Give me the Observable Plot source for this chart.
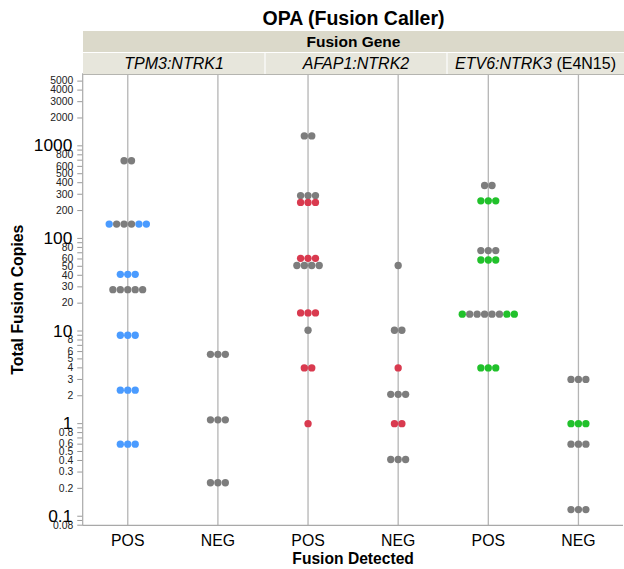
<!DOCTYPE html>
<html><head><meta charset="utf-8">
<script src="https://cdn.jsdelivr.net/npm/d3@7"></script>
<script src="https://cdn.jsdelivr.net/npm/@observablehq/plot@0.6"></script>
<style>
html,body{margin:0;padding:0;overflow:hidden;background:#fff;}
#wrap{position:relative;width:624px;height:569px;overflow:hidden;font-family:"Liberation Sans",Arial,sans-serif;color:#000;}
#wrap svg{position:absolute;left:0;top:0;}
.title{position:absolute;top:6px;height:24px;line-height:24px;text-align:center;font-weight:bold;font-size:19.5px;}
.strip1{position:absolute;top:31px;height:21px;line-height:21px;background:#dbd9ca;text-align:center;font-weight:bold;font-size:15.5px;}
.strip2{position:absolute;top:53px;height:21px;line-height:21px;background:#e7e6dc;text-align:center;font-size:16px;border-bottom:1px solid #b5b5b0;box-sizing:content-box;}
.sep{position:absolute;top:53px;height:21px;width:2px;background:#f4f4f0;}
</style>
</head><body>
<div id="wrap"></div>
<script>
// ---- data ----
const genes = ["TPM3:NTRK1", "AFAP1:NTRK2", "ETV6:NTRK3"];
const geneSuffix = ["", "", " (E4N15)"];
const detected = ["POS", "NEG"];
const geneColors = ["#4a9bff", "#d93a4f", "#21c12b"];
const grayColor = "#7d7d7d";

// [Total Fusion Copies, dot order in row: G = gray, C = gene colour]
const tpm3Pos = [[690, "GG"], [143, "CGGGCC"], [41, "CCC"], [28, "GGGGG"], [9, "CCC"], [2.3, "CCC"], [0.6, "CCC"]];
const tpm3Neg = [[5.6, "GGG"], [1.1, "GGG"], [0.23, "GGG"]];
const afap1Pos = [[1280, "GG"], [290, "GGG"], [245, "CCC"], [61, "CCC"], [51, "GGGG"], [15.7, "CCC"], [10.2, "G"], [4, "CC"], [1, "C"]];
const afap1Neg = [[51, "G"], [10.2, "GG"], [4, "C"], [2.07, "GGG"], [1, "CC"], [0.41, "GGG"]];
const etv6Pos = [[373, "GG"], [255, "CCC"], [74, "GGG"], [58.5, "CCC"], [15.2, "CGGGGGCC"], [4, "CCC"]];
const etv6Neg = [[3.0, "GGG"], [1.0, "CCC"], [0.6, "GGG"], [0.118, "GGG"]];

const bigTicks = [0.1, 1, 10, 100, 1000];
const smallTicks = [0.08, 0.2, 0.3, 0.4, 0.5, 0.6, 0.8, 2, 3, 4, 5, 6, 8, 20, 30, 40, 50, 60, 80, 200, 300, 400, 500, 600, 800, 2000, 3000, 4000, 5000];
const minorTicks = [0.09, 0.7, 0.9, 7, 9, 70, 90, 700, 900];
const yDomain = [0.0795, 6000];

// ---- build point table ----
const groups = [tpm3Pos, tpm3Neg, afap1Pos, afap1Neg, etv6Pos, etv6Neg];
const step = 0.0825; // dot spacing in category units
const points = [];
groups.forEach((rows, gi) => {
  const gene = Math.floor(gi / 2);
  rows.forEach(([v, pattern]) => {
    const n = pattern.length;
    [...pattern].forEach((c, k) => {
      points.push({
        cat: gi + (k - (n - 1) / 2) * step,
        value: v,
        color: c === "G" ? grayColor : geneColors[gene]
      });
    });
  });
});

const W = 630, H = 569, ML = 83, MR = 1;
const frameW = W - ML - MR;
const allTicks = [...bigTicks, ...smallTicks, ...minorTicks];
const chart = Plot.plot({
  width: W, height: H,
  marginLeft: ML, marginRight: MR, marginTop: 74, marginBottom: 39,
  style: {fontFamily: "'Liberation Sans', Arial, sans-serif", color: "#000", background: "transparent", overflow: "visible"},
  x: {type: "linear", domain: [-0.5, 5.5], label: null, axis: null},
  y: {type: "log", domain: yDomain, label: null, axis: null},
  marks: [
    Plot.gridX({ticks: [0, 1, 2, 3, 4, 5], stroke: "#b4b4b4", strokeOpacity: 1, strokeWidth: 1.3}),
    Plot.ruleX([-0.5], {stroke: "#a8a8a8", strokeWidth: 1.2}),
    Plot.ruleY([yDomain[0]], {stroke: "#a8a8a8", strokeWidth: 1.2}),
    // y tick marks (short lines left of the frame)
    Plot.tickY(allTicks, {y: d => d, insetLeft: -5, insetRight: frameW, stroke: "#999", strokeWidth: 1}),
    // y tick labels
    Plot.text(smallTicks, {y: d => d, text: d => String(d), frameAnchor: "left", textAnchor: "end", dx: -9.5, fontSize: 10.5, fill: "#222"}),
    Plot.text(bigTicks, {y: d => d, text: d => String(d), frameAnchor: "left", textAnchor: "end", dx: -10.5, dy: 0, fontSize: 17.5, fill: "#000"}),
    Plot.axisX({ticks: [0, 1, 2, 3, 4, 5], tickSize: 0, tickPadding: 9, fontSize: 16, tickFormat: i => detected[i % 2], label: null}),
    Plot.text(["Fusion Detected"], {frameAnchor: "bottom", lineAnchor: "middle", dy: 34, fontSize: 15.8, fontWeight: "bold"}),
    Plot.text(["Total Fusion Copies"], {frameAnchor: "left", textAnchor: "middle", lineAnchor: "middle", dx: -65, rotate: -90, fontSize: 16, fontWeight: "bold"}),
    Plot.dot(points, {x: "cat", y: "value", fill: "color", r: 3.7})
  ]
});

const wrap = document.getElementById("wrap");
wrap.appendChild(chart);
const xs = chart.scale("x");
const left = xs.apply(-0.5), right = 624;

const title = document.createElement("div");
title.className = "title";
title.style.left = left + "px"; title.style.width = (right - left) + "px";
title.textContent = "OPA (Fusion Caller)";
wrap.appendChild(title);

const s1 = document.createElement("div");
s1.className = "strip1";
s1.style.left = left + "px"; s1.style.width = (right - left) + "px";
s1.textContent = "Fusion Gene";
wrap.appendChild(s1);

genes.forEach((g, i) => {
  const x0 = xs.apply(2 * i - 0.5), x1 = Math.min(xs.apply(2 * i + 1.5), right);
  const d = document.createElement("div");
  d.className = "strip2";
  d.style.left = x0 + "px"; d.style.width = (x1 - x0) + "px";
  const it = document.createElement("i");
  it.textContent = g;
  d.appendChild(it);
  if (geneSuffix[i]) d.appendChild(document.createTextNode(geneSuffix[i]));
  wrap.appendChild(d);
  if (i > 0) {
    const s = document.createElement("div");
    s.className = "sep";
    s.style.left = (x0 - 1) + "px";
    wrap.appendChild(s);
  }
});
</script>
</body></html>
